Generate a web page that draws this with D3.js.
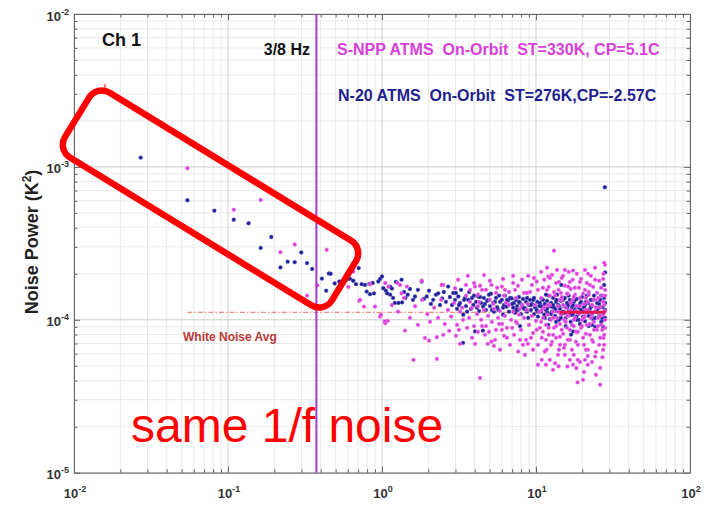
<!DOCTYPE html>
<html><head><meta charset="utf-8">
<script src="https://cdn.jsdelivr.net/npm/d3@7"></script>
<style>body{margin:0;background:#fff} text{font-family:"Liberation Sans",Arial,sans-serif}</style>
</head><body><svg id="c" width="715" height="506"></svg>
<script>
// ---- data ----
const xTicks=[1e-2,1e-1,1e0,1e1,1e2];
const xTickExp=["-2","-1","0","1","2"];
const yTicks=[1e-5,1e-4,1e-3,1e-2];
const yTickExp=["-5","-4","-3","-2"];
const markerFreq=0.375;            // 3/8 Hz
const whiteNoiseAvg=1.12e-4;
const whiteNoiseRange=[0.0545,28.1];
const avgFitRange=[14.2,28.3];
const legendNPP="S-NPP ATMS  On-Orbit  ST=330K, CP=5.1C";
const legendN20="N-20 ATMS  On-Orbit  ST=276K,CP=-2.57C";

// N-20 ATMS [frequency Hz, noise power K^2]
const n20=[[0.0271,1.15e-3],[0.0545,6.05e-4],[0.0815,5.18e-4],[0.109,4.52e-4],[0.136,4.28e-4],[0.163,2.95e-4],[0.191,3.48e-4],[0.219,2.2e-4],[0.244,2.4e-4],[0.271,2.38e-4],[0.299,2.76e-4],[0.326,2.35e-4],[0.352,2.15e-4],[0.407,1.86e-4],[0.434,1.55e-4],[0.452,2.01e-4],[0.464,2.0e-4],[0.493,1.73e-4],
[0.528,1.78e-4],[0.556,1.76e-4],[0.590,1.83e-4],[0.620,1.85e-4],[0.651,1.80e-4],[0.706,2.18e-4],[0.678,1.71e-4],[0.738,1.71e-4],[0.776,1.69e-4],[0.827,1.72e-4],[0.870,1.74e-4],[0.946,1.78e-4],[0.971,1.85e-4],[1.0,1.92e-4],[0.795,1.53e-4],[0.836,1.47e-4],[0.887,1.49e-4],[1.02,1.61e-4],[1.08,1.49e-4],[1.13,1.46e-4],[1.18,1.39e-4],[1.21,1.29e-4],[1.28,1.29e-4],[1.35,1.30e-4],[1.42,1.39e-4],[1.47,1.46e-4],[1.13,1.65e-4],
[1.06,1.55e-4],[1.16,1.60e-4],[1.23,1.77e-4],[1.34,1.83e-4],[1.39,1.52e-4],[1.52,1.59e-4],[1.59,1.35e-4],[1.64,1.42e-4],[1.71,1.57e-4],[1.81,1.78e-4],[1.87,1.37e-4],[1.95,1.42e-4],[2.02,1.55e-4],[2.08,1.27e-4],[2.15,1.35e-4],[2.24,1.46e-4],[2.32,1.49e-4],[2.38,1.25e-4],[2.46,1.38e-4],[2.52,1.52e-4],[2.60,1.31e-4],[2.69,1.65e-4],[2.76,1.41e-4],[2.85,1.25e-4],[2.90,1.50e-4],[2.98,1.35e-4],[3.07,1.18e-4],[3.13,1.42e-4],[3.21,1.29e-4],[3.26,1.57e-4],[3.37,1.08e-4],[3.36,7.07e-5],[3.46,1.39e-4],[3.51,1.23e-4],[3.63,1.35e-4],[3.68,1.52e-4],[3.78,1.18e-4],[3.92,1.25e-4],[3.96,1.44e-4],[4.08,1.31e-4],[4.22,1.42e-4],[4.27,1.14e-4],[4.40,1.29e-4],[4.53,1.22e-4],[4.52,8.5e-5],[4.59,1.39e-4],[4.73,1.16e-4],[4.81,1.33e-4],[4.90,1.35e-4],[5.02,1.23e-4],[5.10,1.48e-4],[5.28,1.29e-4],[5.33,1.13e-4],[5.50,1.39e-4],[5.59,1.21e-4],[5.69,1.16e-4],[5.84,1.31e-4],[6.00,1.35e-4],[6.11,1.08e-4],[6.20,1.25e-4],[6.29,1.44e-4],[6.46,1.22e-4],[6.58,1.33e-4],[6.68,1.13e-4],[6.78,1.39e-4],[6.96,1.38e-4],[7.10,1.20e-4],[7.20,1.29e-4],[7.31,1.11e-4],[7.42,1.35e-4],[7.53,1.23e-4],[7.64,1.16e-4],[7.75,1.41e-4],[7.87,1.29e-4],[7.99,1.09e-4],[8.11,1.25e-4],[8.23,1.37e-4],[8.36,1.18e-4],[8.48,1.19e-4],[8.61,1.31e-4],[8.74,1.13e-4],[8.90,1.03e-4],[9.00,1.25e-4],[9.14,1.35e-4],[9.28,1.16e-4],[9.42,1.27e-4],[9.61,1.35e-4],[9.71,1.09e-4],[9.86,1.21e-4],[10.1,1.16e-4],[10.2,1.31e-4],[10.3,1.05e-4],[10.5,1.23e-4],[10.6,1.29e-4],[10.8,1.13e-4],[10.9,1.37e-4],[11.1,1.20e-4],[11.3,1.08e-4],[11.4,1.27e-4],[11.6,1.16e-4],[11.8,1.33e-4],[12.0,9.27e-5],[11.9,1.11e-4],[12.1,1.23e-4],[12.3,1.01e-4],[12.5,1.29e-4],[12.6,1.22e-4],[12.7,1.13e-4],[12.9,1.39e-4],[13.1,1.20e-4],[13.3,1.06e-4],[13.5,1.31e-4],[13.6,1.35e-4],[13.7,1.14e-4],[13.9,1.25e-4],[14.1,1.00e-4],[14.3,1.18e-4],[14.5,1.33e-4],[14.6,1.69e-4],[14.7,1.09e-4],[15.0,1.13e-4],[15.2,1.23e-4],[15.4,1.39e-4],[15.6,1.03e-4],[15.9,1.29e-4],[16.2,1.25e-4],[16.3,1.13e-4],[16.6,1.35e-4],[16.8,9.7e-5],[17.1,1.20e-4],[17.3,1.08e-4],[17.4,8.4e-5],[17.6,1.31e-4],[17.9,1.16e-4],[18.2,1.23e-4],[18.3,1.05e-4],[18.4,1.37e-4],[18.7,1.11e-4],[19.0,1.00e-4],[19.3,1.27e-4],[19.6,1.16e-4],[19.9,1.41e-4],[20.2,1.05e-4],[20.5,1.21e-4],[20.8,9.8e-5],[21.1,1.31e-4],[21.4,1.13e-4],[21.8,1.29e-4],[22.0,9.1e-5],[22.4,1.18e-4],[22.7,1.35e-4],[23.0,1.08e-4],[23.1,1.23e-4],[23.5,1.01e-4],[23.8,1.44e-4],[24.2,9.0e-5],[24.5,1.14e-4],[24.9,1.29e-4],[25.4,1.19e-4],[25.7,1.06e-4],[26.1,1.35e-4],[26.5,9.7e-5],[26.8,1.03e-4],[26.9,1.21e-4],[27.3,1.11e-4],[27.7,1.39e-4],[28.1,1.16e-4],[28.1,2.04e-4],[28.0,7.36e-4],[27.3,9.0e-5],[27.7,1.69e-4],[16.9,8.0e-5],
[10.8,1.23e-4],[11.1,1.35e-4],[11.4,1.03e-4],[11.8,1.18e-4],[12.1,1.44e-4],[12.5,1.09e-4],[12.9,1.25e-4],[13.3,1.18e-4],[13.7,1.46e-4],[14.1,1.23e-4],[14.5,1.03e-4],[15.0,1.35e-4],[15.4,1.11e-4],[15.9,1.20e-4],[16.3,1.44e-4],[16.8,1.08e-4],[17.3,1.25e-4],[17.9,1.35e-4],[18.4,1.00e-4],[19.0,1.20e-4],[19.6,1.31e-4],[20.2,1.13e-4],[20.8,1.25e-4],[21.4,1.44e-4],[22.0,1.06e-4],[22.7,1.23e-4],[23.5,1.35e-4],[24.2,1.03e-4],[24.9,1.13e-4],[25.7,1.27e-4],[26.5,1.44e-4],[27.3,1.0e-4],[28.1,1.29e-4],[28.1,1.03e-4],[23.1,9.27e-5],[19.3,9.4e-5],[15.6,9.1e-5],[13.5,9.7e-5],[11.6,1.46e-4],
[3.02,1.50e-4],[3.16,1.25e-4],[3.41,1.35e-4],[3.57,1.13e-4],[3.84,1.39e-4],[4.14,1.20e-4],[4.33,1.41e-4],[4.66,1.27e-4],[4.95,1.46e-4],[5.17,1.16e-4],[5.42,1.31e-4],[5.76,1.44e-4],[6.11,1.20e-4],[6.48,1.35e-4],[6.99,1.27e-4],[7.42,1.16e-4],[7.75,1.31e-4],[8.23,1.21e-4],[8.74,1.39e-4],[9.28,1.25e-4],[9.71,1.39e-4],[10.3,1.13e-4],[4.02,8.4e-5],[7.87,9.1e-5]];

// S-NPP ATMS [frequency Hz, noise power K^2]
const snpp=[[0.0545,9.8e-4],[0.109,5.25e-4],[0.163,6.08e-4],[0.219,2.77e-4],[0.271,3.11e-4],[0.326,1.44e-4],[0.38,1.68e-4],[0.438,2.87e-4],
[0.651,2.07e-4],[0.604,1.64e-4],[0.712,1.33e-4],[0.764,1.22e-4],[0.836,1.71e-4],[1.05,1.74e-4],[1.31,1.69e-4],[1.34,1.49e-4],[1.45,1.65e-4],[0.971,1.05e-4],[1.05,9.5e-5],[1.09,9.85e-5],[1.41,8.5e-5],[0.901,1.22e-4],
[0.72,1.35e-4],[0.985,1.08e-4],[1.04,9.75e-5],[1.10,1.65e-4],[1.26,1.74e-4],[1.60,5.47e-5],[1.90,7.6e-5],[2.02,7.3e-5],[2.27,5.55e-5],[2.27,7.7e-5],[2.50,7.98e-5],[2.73,8.47e-5],[3.16,8.6e-5],[4.33,4.17e-5],[4.86,6.96e-5],[5.14,7.2e-5],[5.42,7.4e-5],[6.0,8.6e-5],[7.67,6.2e-5],[8.48,5.9e-5],[10.3,5.08e-5],[10.9,5.47e-5],[11.7,6.37e-5],[13.3,5.2e-5],[14.0,4.97e-5],[16.0,4.95e-5],[17.4,5.08e-5],[18.3,4.83e-5],[18.6,3.9e-5],[20.2,4.05e-5],[26.1,3.76e-5],[20.8,5.47e-5],[21.7,6.37e-5],[24.2,5.75e-5],[27.0,5.7e-5],[27.4,7.6e-5],
[3.61,1.94e-4],[4.60,1.96e-4],[8.90,1.94e-4],[10.1,1.78e-4],[12.0,1.92e-4],[13.1,2.83e-4],[15.4,2.12e-4],[17.4,2.10e-4],[21.8,2.0e-4],[28.1,2.29e-4],[27.4,2.0e-4],[24.2,1.83e-4],[16.2,1.65e-4],[14.0,1.57e-4],[7.1,1.74e-4],[6.0,1.65e-4],[5.14,1.69e-4],[4.02,1.65e-4],[2.98,1.61e-4],[2.50,1.69e-4],[1.81,1.80e-4],[2.44,1.69e-4],[4.33,1.67e-4],
[1.16,1.25e-4],[1.27,1.13e-4],[1.39,1.39e-4],[1.52,1.03e-4],[1.64,1.23e-4],[1.71,9.27e-5],[1.82,1.35e-4],[1.97,1.09e-4],[2.05,9.7e-5],[2.18,1.20e-4],[2.31,1.03e-4],[2.42,1.35e-4],[2.56,9.4e-5],[2.68,1.16e-4],[2.81,1.05e-4],[2.94,1.29e-4],[3.07,9.27e-5],[3.21,1.13e-4],[3.36,1.0e-4],[3.51,1.44e-4],[3.68,1.03e-4],[3.84,1.20e-4],[3.96,9.1e-5],[4.14,1.09e-4],[4.27,1.31e-4],[4.40,1.0e-4],[4.59,1.16e-4],[4.73,9.1e-5],[4.88,1.06e-4],[5.02,1.35e-4],[5.17,9.7e-5],[5.33,1.18e-4],[5.50,8.6e-5],[5.67,1.03e-4],[5.84,1.14e-4],[6.02,9.4e-5],[6.20,1.44e-4],[6.29,1.06e-4],[6.48,8.86e-5],[6.68,1.25e-4],[6.89,1.0e-4],[7.10,1.13e-4],[7.20,7.98e-5],[7.42,1.39e-4],[7.53,9.5e-5],[7.75,1.08e-4],[7.99,8.6e-5],[8.11,1.25e-4],[8.36,1.03e-4],[8.61,7.4e-5],[8.74,1.16e-4],[9.0,9.27e-5],[9.14,1.52e-4],[9.42,1.06e-4],[9.56,8.2e-5],[9.86,1.25e-4],[10.0,9.85e-5],[10.3,6.86e-5],[10.5,1.13e-4],[10.6,8.86e-5],[10.8,1.39e-4],[10.9,7.63e-5],[11.1,1.03e-4],[11.3,1.20e-4],[11.4,6.2e-5],[11.6,9.27e-5],[11.8,1.57e-4],[11.9,1.08e-4],[12.1,7.98e-5],[12.3,1.25e-4],[12.5,1.0e-4],[12.7,7.18e-5],[12.9,1.13e-4],[13.1,8.86e-5],[13.3,1.44e-4],[13.5,7.63e-5],[13.7,1.03e-4],[13.9,1.23e-4],[14.1,6.37e-5],[14.3,9.4e-5],[14.5,1.09e-4],[14.7,1.35e-4],[15.0,8.1e-5],[15.2,1.0e-4],[15.4,6.86e-5],[15.6,1.20e-4],[15.9,8.86e-5],[16.1,1.48e-4],[16.3,1.06e-4],[16.6,7.4e-5],[16.8,1.16e-4],[17.1,9.27e-5],[17.3,1.35e-4],[17.6,5.9e-5],[17.9,1.03e-4],[18.2,8.35e-5],[18.4,1.23e-4],[18.7,6.86e-5],[19.0,1.09e-4],[19.3,1.39e-4],[19.6,8.86e-5],[19.9,1.0e-4],[20.2,7.63e-5],[20.5,1.27e-4],[20.8,1.06e-4],[21.1,6.37e-5],[21.4,9.27e-5],[21.7,1.16e-4],[22.0,1.46e-4],[22.4,7.98e-5],[22.7,1.03e-4],[23.1,1.25e-4],[23.5,7.18e-5],[23.8,9.7e-5],[24.2,1.13e-4],[24.5,1.35e-4],[24.9,8.6e-5],[25.3,1.03e-4],[25.7,6.86e-5],[26.1,1.20e-4],[26.5,9.27e-5],[26.9,1.44e-4],[27.3,1.08e-4],[27.7,7.98e-5],[28.1,1.0e-4],[28.1,1.57e-4],[27.7,1.25e-4],[27.3,6.37e-5],[26.1,4.85e-5],[24.5,4.37e-5],[23.1,5.3e-5],[22.4,1.69e-4],[20.8,1.57e-4],[19.3,1.77e-4],[17.9,1.62e-4],[16.6,1.77e-4],[14.7,1.88e-4],[13.5,1.74e-4],[12.3,1.88e-4],[11.1,1.62e-4],[9.42,1.69e-4],[8.36,1.50e-4],[7.31,1.57e-4],[6.29,1.57e-4],[5.50,1.50e-4],[4.73,1.57e-4],[4.20,1.46e-4],[3.73,1.57e-4],[20.5,4.56e-5],[21.7,5.08e-5],[18.7,5.47e-5],[16.6,5.47e-5],[15.4,5.9e-5],[14.3,6.86e-5],[12.3,5.47e-5],[11.6,5.08e-5],[12.9,4.71e-5],[9.56,6.37e-5],[8.86,6.96e-5],[7.87,7.4e-5],[6.78,6.86e-5],[6.48,7.63e-5],[5.84,6.37e-5],[4.66,7.98e-5],[4.20,8.35e-5],[3.84,7.63e-5],
[10.8,2.06e-4],[11.3,1.83e-4],[11.8,2.19e-4],[12.1,1.64e-4],[12.7,1.97e-4],[13.1,1.52e-4],[13.7,2.12e-4],[14.1,1.77e-4],[14.5,1.50e-4],[15.0,1.94e-4],[15.4,1.67e-4],[15.9,1.48e-4],[16.3,2.06e-4],[16.8,1.59e-4],[17.3,1.83e-4],[17.9,1.46e-4],[18.4,2.0e-4],[19.0,1.62e-4],[19.6,1.85e-4],[20.2,1.48e-4],[20.8,2.12e-4],[21.4,1.74e-4],[22.0,1.52e-4],[22.7,1.94e-4],[23.5,1.64e-4],[24.2,2.19e-4],[24.9,1.50e-4],[25.7,1.80e-4],[26.5,1.62e-4],[27.3,1.85e-4],[28.1,1.44e-4],[27.7,2.36e-4],[25.3,1.39e-4],[21.1,1.39e-4],[17.6,1.41e-4],[14.7,1.41e-4],[12.3,1.44e-4],
[10.8,9.7e-5],[11.1,8.35e-5],[11.6,7.4e-5],[12.1,8.86e-5],[12.5,6.86e-5],[12.9,7.98e-5],[13.5,9.1e-5],[13.9,5.9e-5],[14.3,7.74e-5],[14.7,8.6e-5],[15.2,6.56e-5],[15.6,9.7e-5],[16.1,7.4e-5],[16.6,8.6e-5],[17.1,6.37e-5],[17.6,9.1e-5],[18.2,7.18e-5],[18.7,8.35e-5],[19.3,5.3e-5],[19.9,9.1e-5],[20.5,6.86e-5],[21.1,8.1e-5],[21.7,5.8e-5],[22.4,9.4e-5],[23.1,7.4e-5],[23.8,8.6e-5],[24.5,6.17e-5],[25.3,9.1e-5],[26.1,7.63e-5],[26.9,8.6e-5],[27.7,6.86e-5],[28.1,8.86e-5],
[10.9,1.16e-4],[11.9,1.25e-4],[12.9,1.03e-4],[13.9,1.13e-4],[15.0,1.25e-4],[15.9,1.06e-4],[16.8,1.29e-4],[18.2,1.14e-4],[19.3,1.23e-4],[20.5,1.03e-4],[21.7,1.31e-4],[23.1,1.09e-4],[24.5,1.21e-4],[26.1,1.06e-4],[27.3,1.31e-4],[28.1,1.14e-4],[23.8,1.35e-4],[21.1,1.16e-4],[17.6,1.0e-4],[14.3,1.35e-4],
[3.12,1.83e-4],[3.51,1.69e-4],[3.96,1.74e-4],[4.46,1.57e-4],[5.02,1.80e-4],[5.59,1.62e-4],[6.11,1.85e-4],[6.68,1.52e-4],[7.10,1.94e-4],[7.64,1.67e-4],[8.11,1.83e-4],[8.74,1.50e-4],[9.71,1.88e-4],[10.3,1.57e-4],
[3.02,7.86e-5],[3.21,6.96e-5],[3.57,8.86e-5],[4.02,6.96e-5],[4.46,9.1e-5],[4.95,8.35e-5],[5.33,6.76e-5],[5.76,9.4e-5],[6.20,7.86e-5],[6.99,8.86e-5],[7.42,9.7e-5],[8.23,6.86e-5],[9.28,7.63e-5],[10.1,8.6e-5],
[3.31,1.20e-4],[3.73,1.31e-4],[4.20,1.23e-4],[5.28,1.27e-4],[6.38,1.29e-4],[7.87,1.18e-4],[8.86,1.27e-4]];

// ---- drawing ----
const svg=d3.select("#c");
svg.append("rect").attr("width",715).attr("height",506).attr("fill","#fff");
const X0=74,X1=690,Y0=472.7,Y1=14;
const x=d3.scaleLog().domain([1e-2,1e2]).range([X0,X1]);
const y=d3.scaleLog().domain([1e-5,1e-2]).range([Y0,Y1]);
const minorOf=(lo,hi)=>{const a=[];for(let d=lo;d<hi*0.999;d*=10)for(let m=2;m<=9;m++)a.push(m*d);return a;};
const xMinor=minorOf(1e-2,1e2), yMinor=minorOf(1e-5,1e-2);

// grid
const grid=svg.append("g");
grid.selectAll(".gxm").data(xMinor).join("line").attr("x1",d=>x(d)).attr("x2",d=>x(d)).attr("y1",Y1).attr("y2",Y0).attr("stroke","#e9e9e9");
grid.selectAll(".gym").data(yMinor).join("line").attr("y1",d=>y(d)).attr("y2",d=>y(d)).attr("x1",X0).attr("x2",X1).attr("stroke","#e9e9e9");
grid.selectAll(".gx").data(xTicks).join("line").attr("x1",d=>x(d)).attr("x2",d=>x(d)).attr("y1",Y1).attr("y2",Y0).attr("stroke","#d0d0d0");
grid.selectAll(".gy").data(yTicks).join("line").attr("y1",d=>y(d)).attr("y2",d=>y(d)).attr("x1",X0).attr("x2",X1).attr("stroke","#cacaca");

// axes (ticks inside, box)
function ax(gen,tr,vals,size,dom){
  const g=svg.append("g").attr("transform",tr).call(gen.tickValues(vals).tickSize(size).tickSizeOuter(0).tickFormat(""));
  g.selectAll("line").attr("stroke","#666");
  g.select(".domain").attr("stroke",dom?"#666":"none");
  return g;
}
ax(d3.axisBottom(x),`translate(0,${Y0})`,xTicks,-6,true);
ax(d3.axisBottom(x),`translate(0,${Y0})`,xMinor,-3.5,false);
ax(d3.axisTop(x),`translate(0,${Y1})`,xTicks,-6,true);
ax(d3.axisTop(x),`translate(0,${Y1})`,xMinor,-3.5,false);
ax(d3.axisLeft(y),`translate(${X0},0)`,yTicks,-6,true);
ax(d3.axisLeft(y),`translate(${X0},0)`,yMinor,-3.5,false);
ax(d3.axisRight(y),`translate(${X1},0)`,yTicks,-6,true);
ax(d3.axisRight(y),`translate(${X1},0)`,yMinor,-3.5,false);

// tick labels with superscripts
xTicks.forEach((d,i)=>{
  const t=svg.append("text").attr("x",x(d)+1).attr("y",498).attr("text-anchor","middle").attr("font-weight","bold").attr("font-size",13).attr("fill","#333");
  t.append("tspan").text("10");
  t.append("tspan").attr("dy",-6).attr("font-size",9).text(xTickExp[i]);
});
yTicks.forEach((d,i)=>{
  const t=svg.append("text").attr("x",69).attr("y",y(d)+6.5).attr("text-anchor","end").attr("font-weight","bold").attr("font-size",13).attr("fill","#333");
  t.append("tspan").text("10");
  t.append("tspan").attr("dy",-6).attr("font-size",9).text(yTickExp[i]);
});
// y label
const yl=svg.append("text").attr("transform",`translate(38,242) rotate(-90)`).attr("text-anchor","middle").attr("font-weight","bold").attr("font-size",18).attr("fill","#222");
yl.append("tspan").text("Noise Power (K");
yl.append("tspan").attr("dy",-7).attr("font-size",12).text("2");
yl.append("tspan").attr("dy",7).text(")");

// white noise lines
svg.append("line").attr("x1",x(whiteNoiseRange[0])).attr("x2",x(whiteNoiseRange[1])).attr("y1",y(whiteNoiseAvg)).attr("y2",y(whiteNoiseAvg))
  .attr("stroke","#e27060").attr("stroke-width",1).attr("stroke-dasharray","5,2,1.5,2");
svg.append("text").attr("x",183).attr("y",341).attr("font-weight","bold").attr("font-size",12).attr("fill","#bb3838").text("White Noise Avg");

// points
svg.append("g").selectAll("circle").data(n20).join("circle").attr("cx",d=>x(d[0])).attr("cy",d=>y(d[1])).attr("r",1.9)
  .attr("fill","#20209a").attr("stroke","#5656b8").attr("stroke-width",0.4);
svg.append("g").selectAll("circle").data(snpp).join("circle").attr("cx",d=>x(d[0])).attr("cy",d=>y(d[1])).attr("r",1.9)
  .attr("fill","#dc3cdc").attr("stroke","#ec8cec").attr("stroke-width",0.5);

// averaging segment
svg.append("line").attr("x1",x(avgFitRange[0])).attr("x2",x(avgFitRange[1])).attr("y1",y(whiteNoiseAvg)).attr("y2",y(whiteNoiseAvg))
  .attr("stroke","#e3154c").attr("stroke-width",3);

// 3/8 Hz marker
svg.append("line").attr("x1",x(markerFreq)).attr("x2",x(markerFreq)).attr("y1",Y1).attr("y2",Y0).attr("stroke","#a03cc8").attr("stroke-width",2);
svg.append("text").attr("x",310).attr("y",55).attr("text-anchor","end").attr("font-weight","bold").attr("font-size",16).attr("fill","#111").text("3/8 Hz");
svg.append("text").attr("x",102).attr("y",46).attr("font-weight","bold").attr("font-size",18).attr("fill","#111").text("Ch 1");

// legends
svg.append("text").attr("x",337).attr("y",55).attr("font-weight","bold").attr("font-size",16).attr("fill","#d83fd8").style("white-space","pre").text(legendNPP);
svg.append("text").attr("x",338).attr("y",101).attr("font-weight","bold").attr("font-size",16).attr("fill","#1f1f8f").style("white-space","pre").text(legendN20);

// annotation
svg.append("rect").attr("x",-156.5).attr("y",-38).attr("width",313).attr("height",76).attr("rx",15)
  .attr("transform","translate(210.5,199) rotate(31.5)").attr("fill","none").attr("stroke","#ff0000").attr("stroke-width",6.5);
svg.append("line").attr("x1",105).attr("x2",105).attr("y1",84).attr("y2",92).attr("stroke","#ff0000").attr("stroke-width",1);
svg.append("text").attr("x",131).attr("y",442).attr("font-size",48).attr("fill","#ff0000").text("same 1/f noise");
</script></body></html>
